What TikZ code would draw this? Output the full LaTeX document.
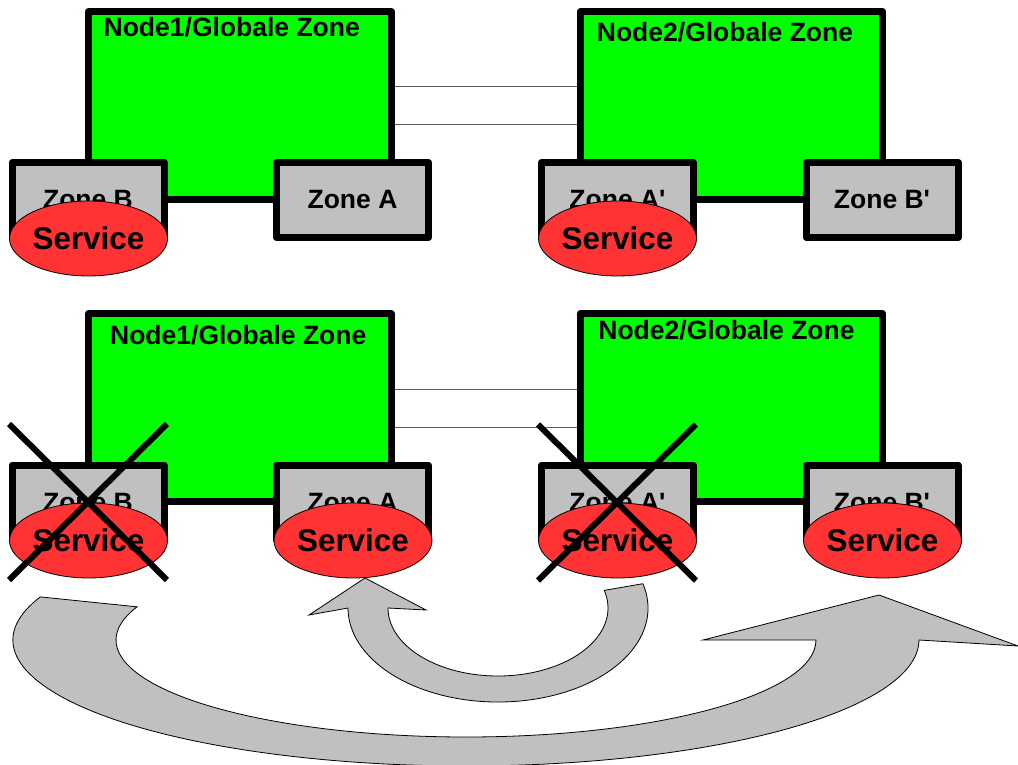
\documentclass[tikz,border=0pt]{standalone}
\usepackage{fontspec}
\setmainfont{Liberation Sans}[Ligatures=TeXOff]
\usepackage{tikz}
\usetikzlibrary{positioning, shapes.geometric, shapes.misc}

\definecolor{globalgreen}{RGB}{0,255,0}
\definecolor{zonegray}{RGB}{192,192,192}
\definecolor{servicered}{RGB}{255,51,51}
\definecolor{linkgray}{RGB}{90,90,90}

\begin{document}
\begin{tikzpicture}[
    x=1pt, y=-1pt,
    globalzone/.style={rectangle, draw=black, line width=7pt, line join=round, fill=globalgreen, minimum width=302.5pt, minimum height=188pt},
    gtitle/.style={inner sep=0pt, font=\bfseries\fontsize{26.5}{30}\selectfont},
    zone/.style={rectangle, draw=black, line width=7pt, line join=round, fill=zonegray, minimum width=152pt, minimum height=75pt, inner sep=0pt, font=\bfseries\fontsize{26.5}{30}\selectfont},
    service/.style={ellipse, draw=black, line width=0.8pt, fill=servicered, minimum width=151pt, minimum height=75pt, inner sep=0pt, font=\bfseries\fontsize{31.4}{34}\selectfont},
    failed/.style={cross out, draw=black, line width=6pt, minimum width=152pt, minimum height=150pt, inner sep=0pt},
    link/.style={draw=linkgray, line width=1pt},
    movearrow/.style={draw=black, line width=0.8pt, fill=zonegray}
]
\useasboundingbox (0,0) rectangle (1018,765);

% normal operation
\node[globalzone] (n1top) at (239.75,105.5) {};
\node[globalzone] (n2top) at (731.5,105.5) {};
\node[gtitle, below=9.5pt of n1top.north, xshift=-8pt] (t1top) {Node1/Globale Zone};
\node[gtitle, below=14.5pt of n2top.north, xshift=-6.5pt] (t2top) {Node2/Globale Zone};

\draw[link] ([yshift=18.5pt]n1top.east) -- ([yshift=18.5pt]n2top.west);
\draw[link] ([yshift=-19.5pt]n1top.east) -- ([yshift=-19.5pt]n2top.west);

\node[zone] (zoneB) at (88,200) {Zone B};
\node[zone] (zoneA) at (352.5,200) {Zone A};
\node[zone] (zoneAp) at (617.5,200) {Zone A'};
\node[zone] (zoneBp) at (882,200) {Zone B'};

\node[service] (srvB) at (88.5,238.5) {Service};
\node[service] (srvAp) at (617.5,238.5) {Service};

% after the failure
\node[globalzone] (n1bot) at (239.75,407.5) {};
\node[globalzone] (n2bot) at (731.5,407.5) {};
\node[gtitle, below=15.5pt of n1bot.north, xshift=-1.5pt] (t1bot) {Node1/Globale Zone};
\node[gtitle, below=10.5pt of n2bot.north, xshift=-5pt] (t2bot) {Node2/Globale Zone};

\draw[link] ([yshift=18.5pt]n1bot.east) -- ([yshift=18.5pt]n2bot.west);
\draw[link] ([yshift=-19.5pt]n1bot.east) -- ([yshift=-19.5pt]n2bot.west);

\node[zone] (zoneB2) at (88,502.5) {Zone B};
\node[zone] (zoneA2) at (352.5,502.5) {Zone A};
\node[zone] (zoneAp2) at (617.5,502.5) {Zone A'};
\node[zone] (zoneBp2) at (882,502.5) {Zone B'};

\node[service] (srvB2) at (88.5,540.5) {Service};
\node[service] (srvA2) at (353,540.5) {Service};
\node[service] (srvAp2) at (617.5,540.5) {Service};
\node[service] (srvBp2) at (882.5,540.5) {Service};

\node[failed] (xB) at (88,502) {};
\node[failed] (xAp) at (617,502.5) {};

% switch-over arrows
\draw[movearrow] (40.3,596.9)
    arc[start angle=200, end angle=0, x radius=453, y radius=126]
    -- (1018,646) -- (879,595) -- (703,640) -- (816,640)
    arc[start angle=0, end angle=200, x radius=350, y radius=97]
    -- cycle;
\draw[movearrow] (642.9,583.7)
    arc[start angle=-15, end angle=180, x radius=150, y radius=94]
    -- (309,615) -- (365,578) -- (426,610) -- (388,608)
    arc[start angle=180, end angle=-15, x radius=110, y radius=68]
    -- cycle;
\end{tikzpicture}
\end{document}
